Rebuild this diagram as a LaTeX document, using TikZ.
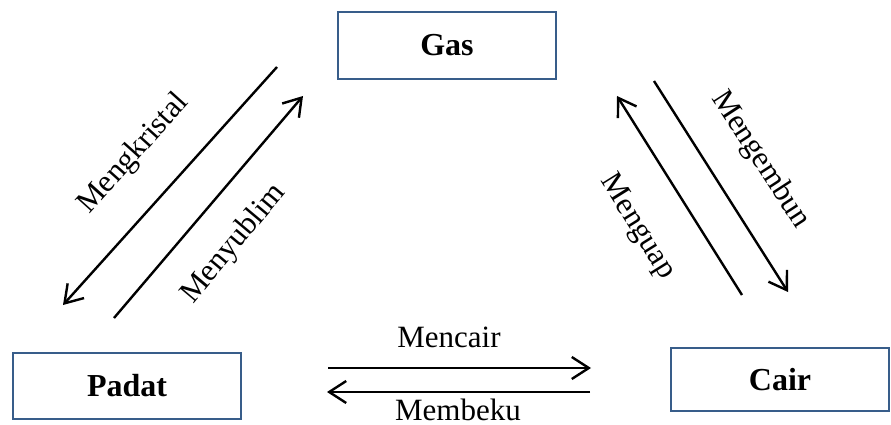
\documentclass[tikz,border=0pt]{standalone}
\usepackage{fontspec}
\setmainfont{Liberation Serif}
\usetikzlibrary{arrows.meta}
\definecolor{boxblue}{RGB}{56,93,138}

\begin{document}
\begin{tikzpicture}[x=1pt, y=-1pt,
  state/.style={draw=boxblue, line width=2.8pt, rectangle, inner sep=0pt, font=\fontsize{32}{38}\selectfont\bfseries},
  change/.style={line width=2.4pt, -{Straight Barb[length=17pt, width=22pt]}},
  lbl/.style={font=\fontsize{31}{37}\selectfont, inner sep=0pt}]
 \useasboundingbox (0,0) rectangle (891,425);

 % the three states
 \node[state, minimum width=218pt, minimum height=67pt] (gas) at (447,45.5) {Gas};
 \node[state, minimum width=228pt, minimum height=66pt] (padat) at (127,386) {Padat};
 \node[state, minimum width=218pt, minimum height=63pt] (cair) at (780,379.5) {Cair};

 % ends of the arrows
 \coordinate (kr1) at (277,67);  \coordinate (kr2) at (63,305);
 \coordinate (sb1) at (114,318); \coordinate (sb2) at (303,96);
 \coordinate (ua1) at (742,295); \coordinate (ua2) at (617,96);
 \coordinate (eb1) at (654,81);  \coordinate (eb2) at (788,292);
 \coordinate (ci1) at (328,368); \coordinate (ci2) at (591,368);
 \coordinate (bk1) at (590,392); \coordinate (bk2) at (327,392);

 \draw[change] (kr1) -- (kr2);
 \draw[change] (sb1) -- (sb2);
 \draw[change] (ua1) -- (ua2);
 \draw[change] (eb1) -- (eb2);
 \draw[change] (ci1) -- (ci2);
 \draw[change] (bk1) -- (bk2);

 % names of the changes
 \node[lbl, rotate=48] (kristal) at (134,154) {Mengkristal};
 \node[lbl, rotate=50] (sublim) at (234,244) {Menyublim};
 \node[lbl, rotate=-58] (uap) at (637,227) {Menguap};
 \node[lbl, rotate=-57] (embun) at (760,160) {Mengembun};
 \node[lbl] (lebur) at (449,337) {Mencair};
 \node[lbl] (beku) at (458,410) {Membeku};
\end{tikzpicture}
\end{document}
